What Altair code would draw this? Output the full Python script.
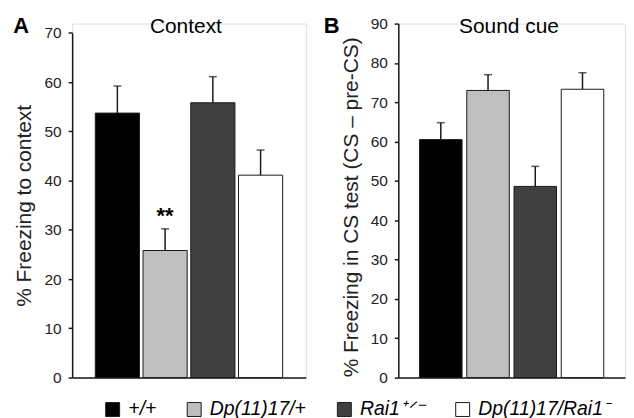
import altair as alt
import pandas as pd

FONT = "Liberation Sans"

# ---- data ----
genotypes = ["+/+", "Dp(11)17/+", "Rai1⁺ᐟ⁻", "Dp(11)17/Rai1⁻"]
fill_colors = ["#000000", "#bfbfbf", "#404040", "#ffffff"]

context_mean = [53.7, 25.8, 55.8, 41.1]
context_err = [5.5, 4.4, 5.3, 5.1]
context_sig = ["", "**", "", ""]
context_ticks = [0, 10, 20, 30, 40, 50, 60, 70]

sound_mean = [60.5, 73.0, 48.6, 73.3]
sound_err = [4.3, 4.0, 5.1, 4.2]
sound_sig = ["", "", "", ""]
sound_ticks = [0, 10, 20, 30, 40, 50, 60, 70, 80, 90]

H = 356
INK = "#1a1a1a"

legend = alt.Legend(
    title=None, orient="none", legendX=31, legendY=378, direction="horizontal",
    symbolType="square", symbolSize=196, symbolStrokeColor=INK, symbolStrokeWidth=1,
    symbolOpacity=1,
    labelFont=FONT, labelFontSize=19.5, labelFontStyle="italic", labelColor="#000",
    labelOffset=6, columnPadding=28, labelLimit=0,
)


def panel(mean, err, sig, ticks, width, y_top, pad_inner, pad_outer, ytitle, title_y,
          heading, heading_x, letter, letter_x):
    df = pd.DataFrame({
        "genotype": genotypes,
        "mean": mean,
        "upper": [m + e for m, e in zip(mean, err)],
        "sig": sig,
    })
    xenc = alt.X(
        "genotype:N", sort=genotypes,
        scale=alt.Scale(paddingInner=pad_inner, paddingOuter=pad_outer),
        axis=alt.Axis(title=None, labels=False, ticks=False, domain=True,
                      domainColor=INK, domainWidth=1.5, grid=False),
    )
    yscale = alt.Scale(domain=[0, ticks[-1]], range=[H, y_top], nice=False, zero=True)
    yaxis = alt.Axis(
        title=ytitle, values=ticks, grid=False, tickSize=4, tickColor=INK, tickWidth=1.5,
        domainColor=INK, domainWidth=1.5, labelOverlap=False,
        labelFont=FONT, labelFontSize=15.5, labelColor="#222", labelPadding=7,
        titleFont=FONT, titleFontSize=21, titleFontWeight="normal", titleColor="#222",
        titleAngle=270, titleAlign="center", titleBaseline="alphabetic",
        titleX=-41.5, titleY=title_y,
    )

    def yenc(field):
        return alt.Y(field, scale=yscale, axis=yaxis)

    base = alt.Chart(df)
    bars = base.mark_bar(stroke=INK, strokeWidth=1).encode(
        x=xenc,
        y=yenc("mean:Q"),
        fill=alt.Fill("genotype:N", sort=genotypes,
                      scale=alt.Scale(domain=genotypes, range=fill_colors),
                      legend=legend),
    )
    stems = base.mark_rule(color=INK, strokeWidth=1.5).encode(
        x=xenc, y=yenc("mean:Q"), y2="upper:Q")
    caps = base.mark_tick(color=INK, thickness=1.5, size=8).encode(
        x=xenc, y=yenc("upper:Q"))
    stars = base.mark_text(font=FONT, fontSize=22, fontWeight="bold",
                           baseline="alphabetic", dy=-6, color="#000").encode(
        x=xenc, y=yenc("upper:Q"), text="sig:N")
    head = alt.Chart(pd.DataFrame({"t": [heading]})).mark_text(
        font=FONT, fontSize=21, baseline="alphabetic", align="center", color="#000"
    ).encode(x=alt.value(heading_x), y=alt.value(9.6), text="t:N")
    let = alt.Chart(pd.DataFrame({"t": [letter]})).mark_text(
        font=FONT, fontSize=22, fontWeight="bold", baseline="alphabetic",
        align="center", color="#000"
    ).encode(x=alt.value(letter_x), y=alt.value(9.6), text="t:N")
    return alt.layer(bars, stems, caps, stars, head, let).properties(width=width, height=H)


panel_a = panel(context_mean, context_err, context_sig, context_ticks, 235, 9.3,
                0.075, 0.485, "% Freezing to context", 182.8,
                "Context", 114.4, "A", -51.2)
panel_b = panel(sound_mean, sound_err, sound_sig, sound_ticks, 228, 0,
                0.1, 0.45, "% Freezing in CS test  (CS – pre-CS)", 184.3,
                "Sound cue", 111.3, "B", -67)

chart = alt.hconcat(panel_a, panel_b, spacing=16).properties(
    padding={"left": 4.5, "top": 5.5, "right": 0, "bottom": 0}
).configure_view(stroke=None).configure(font=FONT)

chart.save("out.html", embed_options={"renderer": "svg", "actions": False})
